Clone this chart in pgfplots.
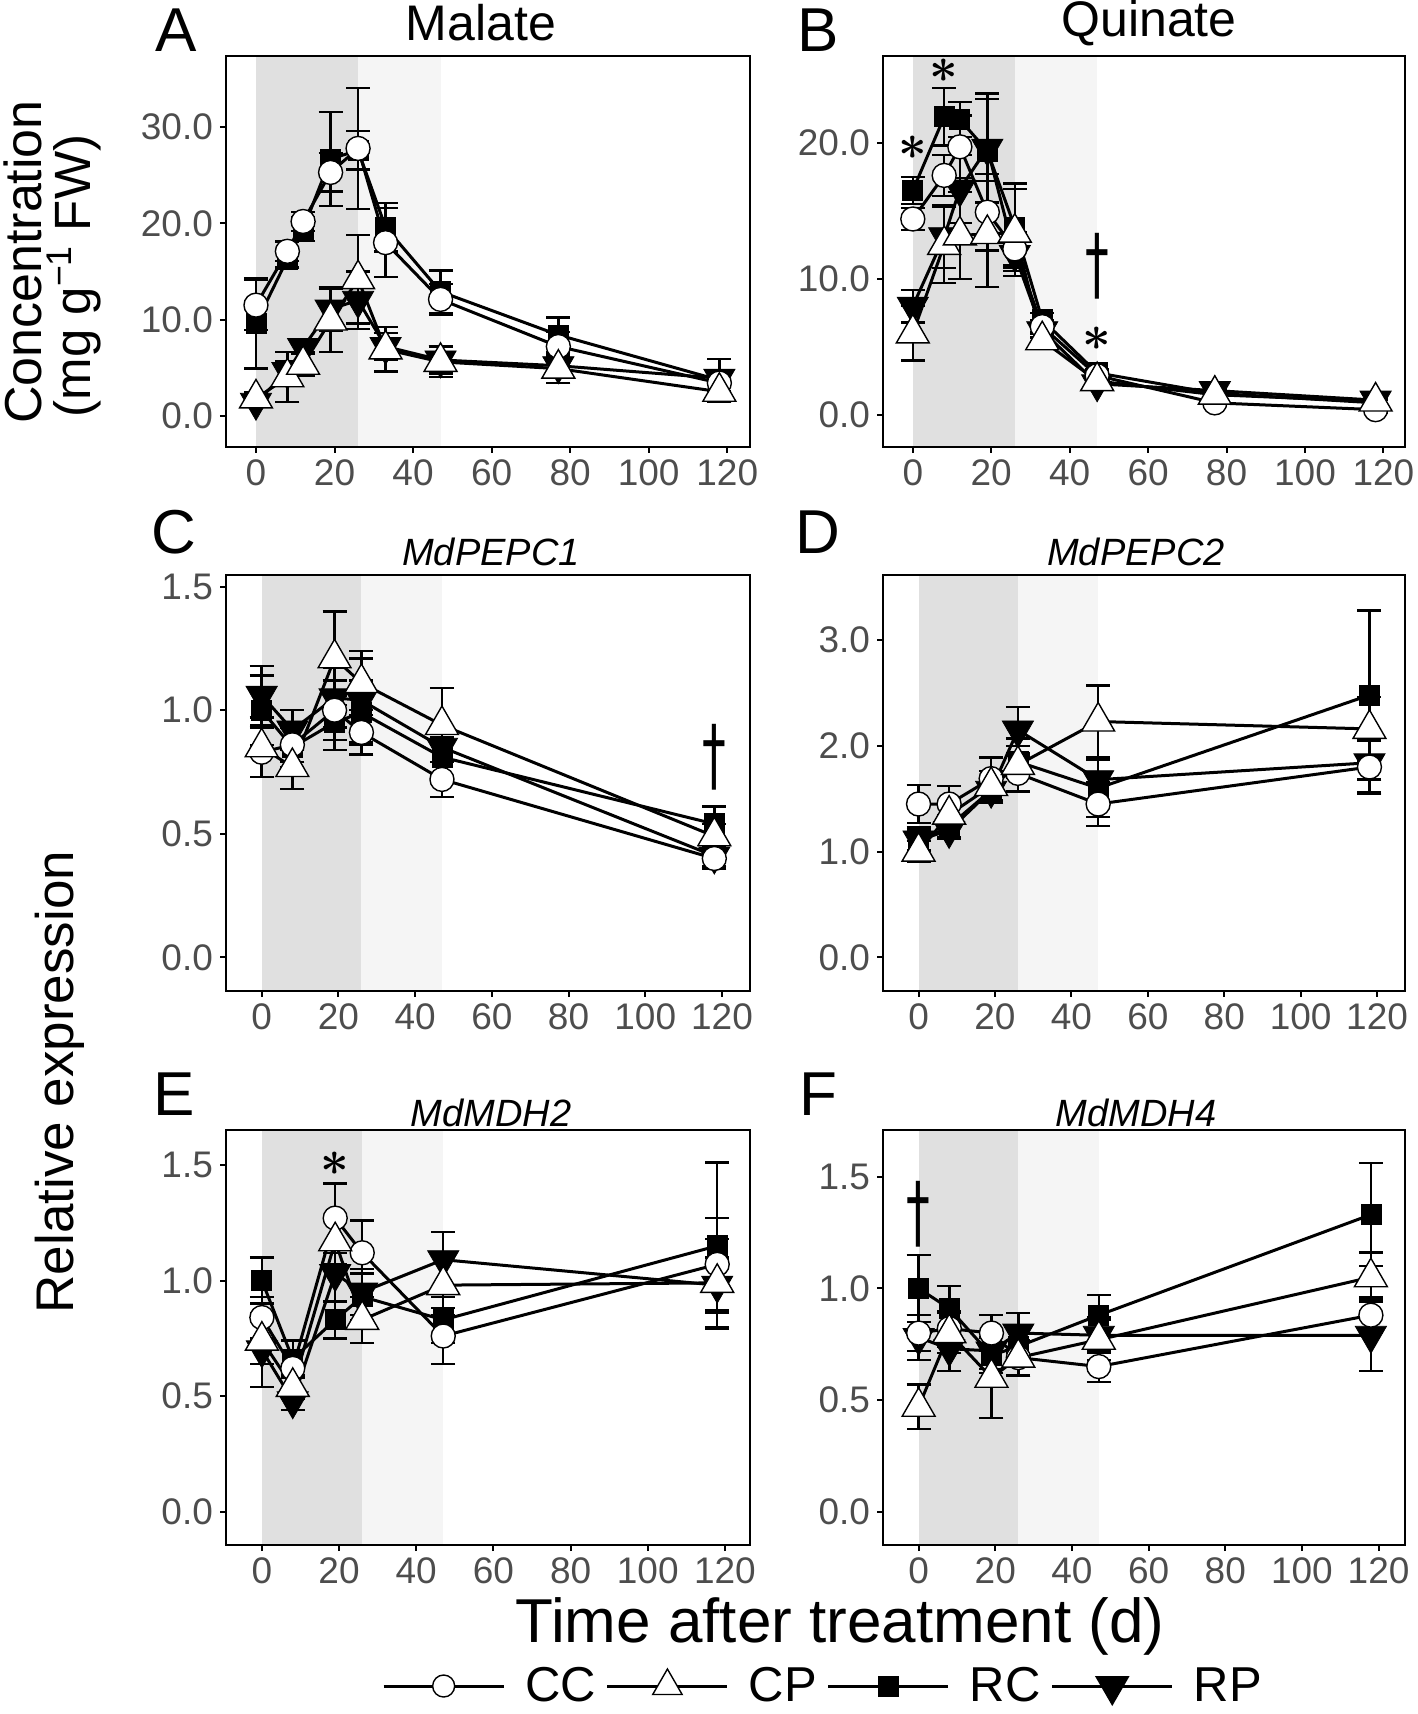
\documentclass[border=0pt]{standalone}
\usepackage{fontspec}
\setmainfont{Liberation Sans}
\newfontfamily\dejavu{DejaVu Sans}
\usepackage{graphicx}
\usepackage{pgfplots}
\pgfplotsset{compat=1.18}
\usepackage{pgfplotstable}
\definecolor{tickgray}{HTML}{4D4D4D}
\definecolor{shadeA}{HTML}{E0E0E0}
\definecolor{shadeB}{HTML}{F5F5F5}

\pgfplotstableread{
t   cc   cce  cp   cpe  rc   rce  rp   rpe
0   11.5 2.6  1.8  0.6  9.6  4.7  1.4  0.5
8   17.1 1.0  4.0  2.6  16.3 0.9  4.6  1.1
12  20.2 1.0  5.3  1.1  19.4 1.2  7.1  0.5
19  25.3 2.0  9.9  3.3  26.7 4.9  11.1 2.3
26  27.8 6.3  14.2 4.6  27.6 2.0  12.0 3.0
33  18.0 3.6  6.9  2.3  19.6 2.5  7.2  1.4
47  12.1 1.6  5.6  1.6  12.9 2.2  5.8  1.4
77  7.2  1.5  4.9  1.5  8.4  1.8  5.2  1.0
118 3.4  0.8  2.5  1.1  3.7  2.2  3.9  0.6
}\tblA
\pgfplotstableread{
t   cc   cce  cp   cpe  rc   rce  rp   rpe
0   14.4 0.8  6.0  2.0  16.5 1.0  8.0  1.2
8   17.6 1.5  12.5 2.8  21.9 2.1  13.1 2.3
12  19.7 2.3  13.2 3.2  21.7 1.3  16.6 2.5
19  14.9 2.8  13.3 3.9  19.4 3.8  19.6 4.0
26  12.2 1.2  13.4 3.2  13.8 3.2  11.8 1.0
33  6.5  0.5  5.5  0.6  7.0  0.5  6.2  0.5
47  2.9  0.3  2.5  0.4  3.1  0.3  2.3  0.3
77  0.9  0.2  1.5  0.3  1.6  0.2  1.8  0.2
118 0.4  0.2  1.0  0.2  0.9  0.2  1.1  0.2
}\tblB
\pgfplotstableread{
t   cc   cce  cp   cpe  rc   rce  rp   rpe
0   0.83 0.10 0.85 0.12 1.00 0.14 1.06 0.12
8   0.86 0.07 0.77 0.09 0.85 0.08 0.92 0.08
19  1.00 0.12 1.21 0.19 0.95 0.11 1.05 0.12
26  0.91 0.09 1.11 0.13 0.99 0.13 1.04 0.17
47  0.72 0.07 0.94 0.15 0.81 0.08 0.85 0.06
118 0.40 0.04 0.49 0.05 0.54 0.07 0.41 0.04
}\tblC
\pgfplotstableread{
t   cc   cce  cp   cpe  rc   rce  rp   rpe
0   1.45 0.18 1.00 0.10 1.08 0.15 1.11 0.10
8   1.45 0.17 1.35 0.10 1.24 0.10 1.20 0.08
19  1.69 0.20 1.62 0.14 1.58 0.12 1.58 0.12
26  1.74 0.17 1.82 0.25 1.85 0.15 2.15 0.22
47  1.45 0.21 2.23 0.34 1.60 0.27 1.68 0.20
118 1.80 0.25 2.16 0.30 2.48 0.80 1.84 0.28
}\tblD
\pgfplotstableread{
t   cc   cce  cp   cpe  rc   rce  rp   rpe
0   0.84 0.09 0.74 0.10 1.00 0.10 0.70 0.16
8   0.62 0.12 0.54 0.05 0.66 0.08 0.48 0.04
19  1.27 0.15 1.17 0.10 0.83 0.08 1.03 0.12
26  1.12 0.14 0.83 0.10 0.93 0.10 0.95 0.10
47  0.76 0.12 0.98 0.13 0.83 0.10 1.09 0.12
118 1.07 0.20 0.99 0.19 1.15 0.36 0.98 0.12
}\tblE
\pgfplotstableread{
t   cc   cce  cp   cpe  rc   rce  rp   rpe
0   0.80 0.08 0.47 0.10 1.00 0.15 0.78 0.10
8   0.82 0.08 0.80 0.09 0.91 0.10 0.73 0.10
19  0.80 0.08 0.60 0.18 0.70 0.08 0.72 0.08
26  0.69 0.08 0.69 0.08 0.74 0.08 0.80 0.09
47  0.65 0.07 0.77 0.09 0.88 0.09 0.79 0.08
118 0.88 0.08 1.05 0.11 1.33 0.23 0.79 0.16
}\tblF

\pgfplotsset{
  panel/.style={scale only axis, axis on top, tick pos=left, tick align=outside,
    axis line style={black, line width=1pt}, major tick length=3pt,
    tick style={black, line width=1pt},
    xmin=-9.3, xmax=127.3, xtick={0,20,40,60,80,100,120},
    tick label style={text=tickgray, font=\fontsize{18.5}{20}\selectfont},
    xticklabel style={/pgf/number format/assume math mode=true},
    yticklabel style={/pgf/number format/.cd, fixed, fixed zerofill, precision=1, assume math mode=true}},
  ln/.style={black, line width=1.5pt, mark=none, error bars/.cd, y dir=both, y explicit,
    error bar style={line width=1.2pt, black, solid},
    error mark options={rotate=90, black, line width=1.2pt, mark size=6pt}},
  mCC/.style={only marks, mark=*, mark size=6pt, mark options={fill=white, draw=black, line width=0.7pt}},
  mCP/.style={only marks, mark=triangle*, mark size=9.5pt, mark options={fill=white, draw=black, line width=0.7pt}},
  mRC/.style={only marks, mark=square*, mark size=5pt, mark options={fill=black, draw=black}},
  mRP/.style={only marks, mark=triangle*, mark size=9pt, mark options={fill=black, draw=black, rotate=180}},
}

\newcommand{\shadeboxes}{%
  \fill[shadeA] ({axis cs:0,0}|-{rel axis cs:0,0}) rectangle ({axis cs:26,0}|-{rel axis cs:0,1});
  \fill[shadeB] ({axis cs:26,0}|-{rel axis cs:0,0}) rectangle ({axis cs:47,0}|-{rel axis cs:0,1});
}
\newcommand{\series}[1]{%
  \addplot[ln] table[x=t,y=cc,y error=cce]{#1};
  \addplot[ln] table[x=t,y=cp,y error=cpe]{#1};
  \addplot[ln] table[x=t,y=rc,y error=rce]{#1};
  \addplot[ln] table[x=t,y=rp,y error=rpe]{#1};
  \addplot[mRC] table[x=t,y=rc]{#1};
  \addplot[mRP] table[x=t,y=rp]{#1};
  \addplot[mCC] table[x=t,y=cc]{#1};
  \addplot[mCP] table[x=t,y=cp]{#1};
}
\newcommand{\starsym}{{\fontsize{32}{32}\selectfont\boldmath$\ast$}}
\newcommand{\daggersym}{\scalebox{1.25}[2.1]{\dejavu\fontsize{19}{19}\selectfont †}}

\begin{document}
\begin{tikzpicture}
\useasboundingbox (0pt,0pt) rectangle (709pt,-857pt);

% Panel A
\begin{axis}[panel, at={(113pt,-223.35pt)}, anchor=south west, width=262pt, height=195.5pt,
  xmin=-7.63, xmax=125.8, ymin=-3.22, ymax=37.44, ytick={0,10,20,30}]
\shadeboxes
\series{\tblA}
\end{axis}

% Panel B
\begin{axis}[panel, at={(441.5pt,-223.35pt)}, anchor=south west, width=261pt, height=195.5pt,
  xmin=-7.6, xmax=125.5, ymin=-2.32, ymax=26.39, ytick={0,10,20}]
\shadeboxes
\series{\tblB}
\node[inner sep=0pt] at (axis cs:0,19.6) {\starsym};
\node[inner sep=0pt] at (axis cs:8,25.3) {\starsym};
\node[inner sep=0pt] at (axis cs:47,5.6) {\starsym};
\node[inner sep=0pt] at (axis cs:47,10.9) {\daggersym};
\end{axis}

% Panel C
\begin{axis}[panel, at={(113pt,-495.35pt)}, anchor=south west, width=262pt, height=207.85pt,
  ymin=-0.135, ymax=1.547, ytick={0,0.5,1,1.5}]
\shadeboxes
\series{\tblC}
\node[inner sep=0pt] at (axis cs:118,0.81) {\daggersym};
\end{axis}

% Panel D
\begin{axis}[panel, at={(441.5pt,-495.35pt)}, anchor=south west, width=261pt, height=207.85pt,
  ymin=-0.315, ymax=3.615, ytick={0,1,2,3}]
\shadeboxes
\series{\tblD}
\end{axis}

% Panel E
\begin{axis}[panel, at={(113pt,-772.5pt)}, anchor=south west, width=262pt, height=207.5pt,
  xmax=126.5, ymin=-0.144, ymax=1.651, ytick={0,0.5,1,1.5}]
\shadeboxes
\series{\tblE}
\node[inner sep=0pt] at (axis cs:19,1.507) {\starsym};
\end{axis}

% Panel F
\begin{axis}[panel, at={(441.5pt,-772.5pt)}, anchor=south west, width=261pt, height=207.5pt,
  xmax=126.9, ymin=-0.149, ymax=1.709, ytick={0,0.5,1,1.5}]
\shadeboxes
\series{\tblF}
\node[inner sep=0pt] at (axis cs:0,1.33) {\daggersym};
\end{axis}

% Legend
\begin{axis}[hide axis, scale only axis, width=20pt, height=20pt, at={(412pt,-843pt)}, anchor=center,
  xmin=0, xmax=1, ymin=0, ymax=1, legend columns=4,
  legend style={at={(0.5,0.5)}, anchor=center, draw=none, fill=none,
    font=\fontsize{24.5}{26}\selectfont,
    /tikz/every odd column/.append style={column sep=8pt},
    /tikz/every even column/.append style={column sep=3pt}},
  legend image code/.code={\draw[mark repeat=2,mark phase=2] plot coordinates {(0pt,0pt) (30pt,0pt) (60pt,0pt)};}]
\addlegendimage{black, line width=1.5pt, mark=*, mark size=5.5pt, mark options={fill=white, draw=black, line width=0.7pt}}
\addlegendentry{CC}
\addlegendimage{black, line width=1.5pt, mark=triangle*, mark size=8.5pt, mark options={fill=white, draw=black, line width=0.7pt}}
\addlegendentry{CP}
\addlegendimage{black, line width=1.5pt, mark=square*, mark size=4.5pt, mark options={fill=black, draw=black}}
\addlegendentry{RC}
\addlegendimage{black, line width=1.5pt, mark=triangle*, mark size=8.5pt, mark options={fill=black, draw=black, rotate=180}}
\addlegendentry{RP}
\end{axis}

% Panel letters
\node[font=\fontsize{31}{31}\selectfont] at (88pt,-15pt) {A};
\node[font=\fontsize{31}{31}\selectfont] at (409pt,-15pt) {B};
\node[font=\fontsize{31}{31}\selectfont] at (87pt,-266pt) {C};
\node[font=\fontsize{31}{31}\selectfont] at (409pt,-266pt) {D};
\node[font=\fontsize{31}{31}\selectfont] at (87pt,-547pt) {E};
\node[font=\fontsize{31}{31}\selectfont] at (409pt,-547pt) {F};

% Titles
\node[font=\fontsize{25}{26}\selectfont] at (240.5pt,-11.5pt) {Malate};
\node[font=\fontsize{25}{26}\selectfont] at (574.5pt,-11.5pt) {Quinate};
\node[font=\fontsize{19}{20}\selectfont\itshape] at (245.5pt,-276pt) {MdPEPC1};
\node[font=\fontsize{19}{20}\selectfont\itshape] at (568pt,-276pt) {MdPEPC2};
\node[font=\fontsize{19}{20}\selectfont\itshape] at (245.5pt,-556.5pt) {MdMDH2};
\node[font=\fontsize{19}{20}\selectfont\itshape] at (568pt,-556.5pt) {MdMDH4};

% Axis labels
\node[rotate=90, font=\fontsize{26}{27}\selectfont, inner sep=0pt] at (11.5pt,-131pt) {Concentration};
\node[rotate=90, font=\fontsize{25.5}{27}\selectfont, inner sep=0pt] at (37pt,-138pt) {(mg g\textsuperscript{−1} FW)};
\node[rotate=90, font=\fontsize{26.5}{28}\selectfont] at (30pt,-541pt) {Relative expression};
\node[font=\fontsize{31}{33}\selectfont] at (420pt,-813pt) {Time after treatment (d)};
\end{tikzpicture}
\end{document}
